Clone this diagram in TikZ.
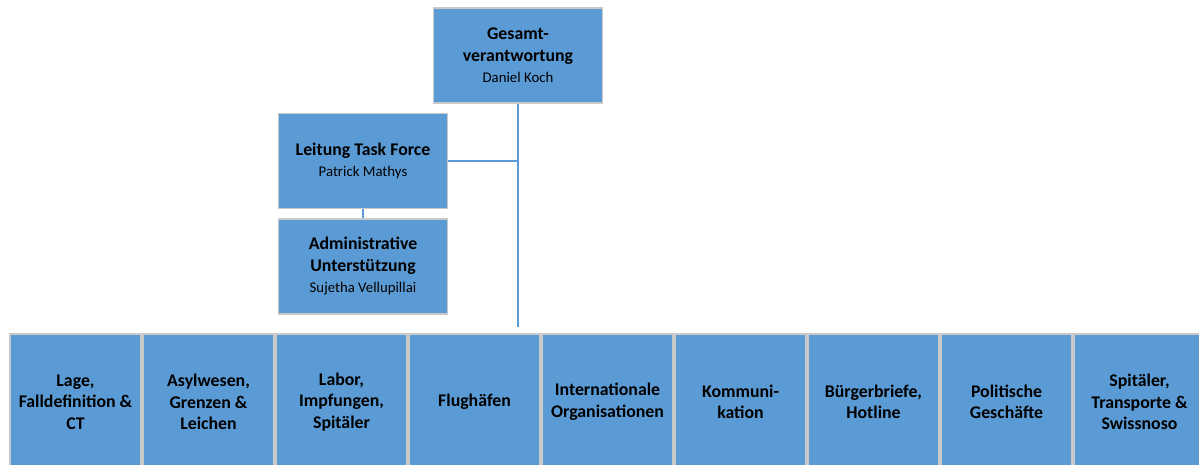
\documentclass[tikz,border=0pt]{standalone}
\usepackage{fontspec}
\setmainfont{Carlito}

\definecolor{boxblue}{HTML}{5B9BD5}
\definecolor{boxrim}{HTML}{C9C9C9}

\tikzset{
	unit/.style={rectangle,draw=boxrim,line width=1.3bp,fill=boxblue,align=center,inner sep=2bp,
		font=\fontsize{17.8bp}{21.5bp}\selectfont\bfseries},
	head/.style={unit,minimum width=169bp,minimum height=95bp},
	dept/.style={unit,minimum width=131bp,minimum height=136bp},
	wire/.style={draw=boxblue,line width=1.5bp}
}
\newcommand{\who}[1]{\\{\fontsize{14.8bp}{18.5bp}\selectfont\mdseries #1}}

\begin{document}
\begin{tikzpicture}[x=1bp,y=-1bp,node distance=133bp]

\clip (0,0) rectangle (1199,465);

\node[head]   (chief) at (518,55.5)   	{Gesamt-\\verantwortung\who{Daniel Koch}};
\node[head]   (lead)  at (363,161)    	{Leitung Task Force\who{Patrick Mathys}};
\node[head]   (admin) at (363,266.5)  	{Administrative\\Unterstützung\who{Sujetha Vellupillai}};

\node[dept]   (d1) at (75.5,402)      	{Lage,\\Falldefinition \&\\CT};
\node[dept]   (d2)[right of=d1]      	{Asylwesen,\\Grenzen \&\\Leichen};
\node[dept]   (d3)[right of=d2]      	{Labor,\\Impfungen,\\Spitäler};
\node[dept]   (d4)[right of=d3]      	{Flughäfen};
\node[dept]   (d5)[right of=d4]      	{Internationale\\Organisationen};
\node[dept]   (d6)[right of=d5]      	{Kommuni-\\kation};
\node[dept]   (d7)[right of=d6]      	{Bürgerbriefe,\\Hotline};
\node[dept]   (d8)[right of=d7]      	{Politische\\Geschäfte};
\node[dept]   (d9)[right of=d8]      	{Spitäler,\\Transporte \&\\Swissnoso};

\coordinate (stem) at (518,327);

	\path[wire] (chief.south) -- (stem)
				(lead.east)   -- (lead.east -| chief.south)
				(lead.south)  -- (admin.north);

\end{tikzpicture}
\end{document}
